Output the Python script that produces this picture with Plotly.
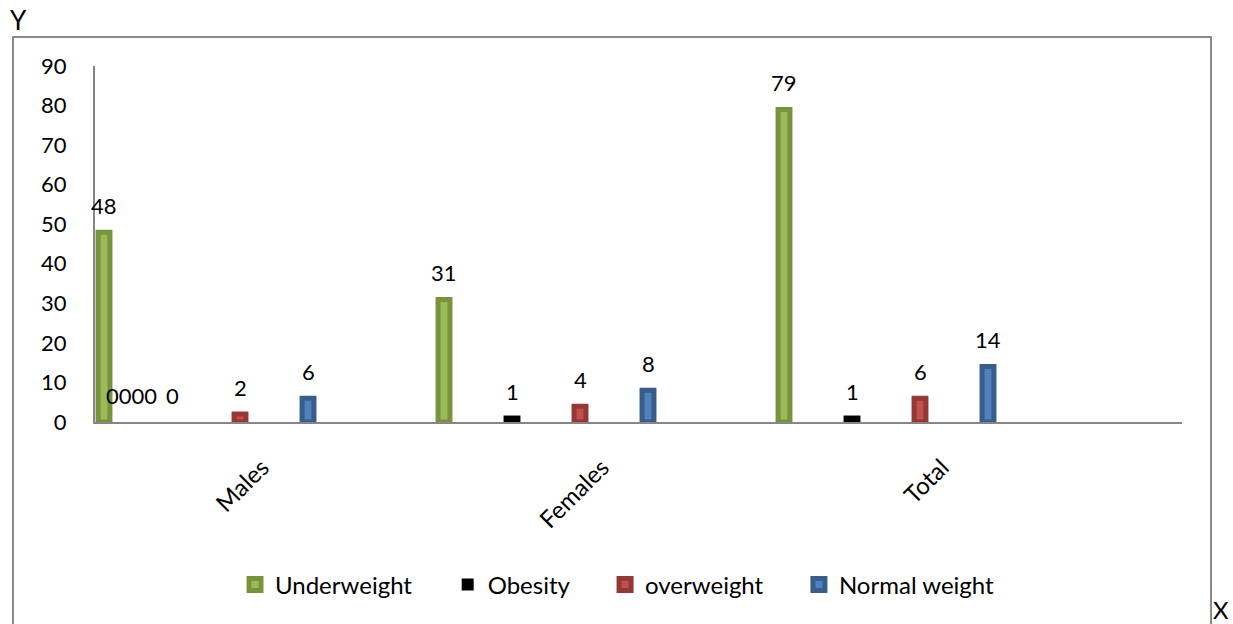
import plotly.graph_objects as go

# ---- data ----
categories = ["Males", "Females", "Total"]
series_names = ["Underweight", "Obesity", "overweight", "Normal weight"]
underweight = [48, 31, 79]
obesity = [0, 1, 1]
overweight = [2, 4, 6]
normal_weight = [6, 8, 14]
males_extra_zero_labels = "0000"   # stray zero labels drawn in the Males group
y_ticks = [0, 10, 20, 30, 40, 50, 60, 70, 80, 90]

# ---- style ----
W, H = 1233, 624
L, R, T, B = 95, 1182, 66, 422          # plot area in pixels
FONT = "Lato"
FS_NUM = 22
FS_TXT = 24
fills = ["#9BBB59", "#000000", "#C0504D", "#4F81BD"]
edges = ["#77933C", "#000000", "#953735", "#385D8A"]
slot_centers = [-0.5, -0.3, -0.1, 0.1]  # series slot centre within category
bar_w = 0.035
line_w = 5
x_range = [-0.5265, 2.6706]
PAD = "\u00a0" * 5

values = [underweight, obesity, overweight, normal_weight]


def px_x(p):
    return (p - L) / (R - L)


def px_y(p):
    return (B - p) / (B - T)


fig = go.Figure()
for name, vals, fc, ec, sc in zip(series_names, values, fills, edges, slot_centers):
    fig.add_trace(go.Bar(
        x=categories, y=vals, name=name + PAD,
        width=bar_w, offset=sc - bar_w / 2,
        marker=dict(color=fc,
                    line=dict(color=ec, width=[0 if v == 0 else line_w for v in vals])),
    ))
    for i, v in enumerate(vals):
        fig.add_annotation(x=i + sc, y=v, xref="x", yref="y", text=str(v),
                           showarrow=False, yshift=27, xanchor="center", yanchor="middle",
                           font=dict(family=FONT, size=FS_NUM, color="black"))

fig.add_annotation(x=slot_centers[0] + 0.08, y=0, xref="x", yref="y", text=males_extra_zero_labels,
                   showarrow=False, yshift=27, xanchor="center", yanchor="middle",
                   font=dict(family=FONT, size=FS_NUM, color="black"))

# axis letters
fig.add_annotation(x=px_x(18), y=px_y(20), xref="paper", yref="paper", text="Y", showarrow=False,
                   xanchor="center", yanchor="middle", font=dict(family=FONT, size=26, color="black"))
fig.add_annotation(x=px_x(1221), y=px_y(609), xref="paper", yref="paper", text="X", showarrow=False,
                   xanchor="center", yanchor="middle", font=dict(family=FONT, size=24, color="black"))

# outer chart border
fig.add_shape(type="rect", xref="paper", yref="paper",
              x0=px_x(13), x1=px_x(1211), y0=px_y(640), y1=px_y(37),
              line=dict(color="#8A8A8A", width=2), fillcolor="rgba(0,0,0,0)", layer="below")

fig.update_layout(
    width=W, height=H,
    margin=dict(l=L, r=W - R, t=T, b=H - B, pad=0),
    paper_bgcolor="white", plot_bgcolor="white",
    barmode="overlay",
    font=dict(family=FONT, size=FS_NUM, color="black"),
    showlegend=True,
    legend=dict(orientation="h", x=px_x(235), xanchor="left", y=px_y(585), yanchor="middle",
                font=dict(family=FONT, size=FS_TXT, color="black"), itemwidth=30,
                bgcolor="rgba(0,0,0,0)"),
    xaxis=dict(type="category", range=x_range, showline=True, linecolor="#868686", linewidth=2,
               showgrid=False, ticks="", tickangle=-45, ticklabelstandoff=20, ticklabelshift=-12,
               tickfont=dict(family=FONT, size=FS_TXT, color="black"), zeroline=False),
    yaxis=dict(range=[0, 90], tickvals=y_ticks, showline=True, linecolor="#868686", linewidth=2,
               showgrid=False, ticks="", ticklabelstandoff=22, zeroline=False,
               tickfont=dict(family=FONT, size=FS_NUM, color="black")),
)

fig.write_html("out.html")
